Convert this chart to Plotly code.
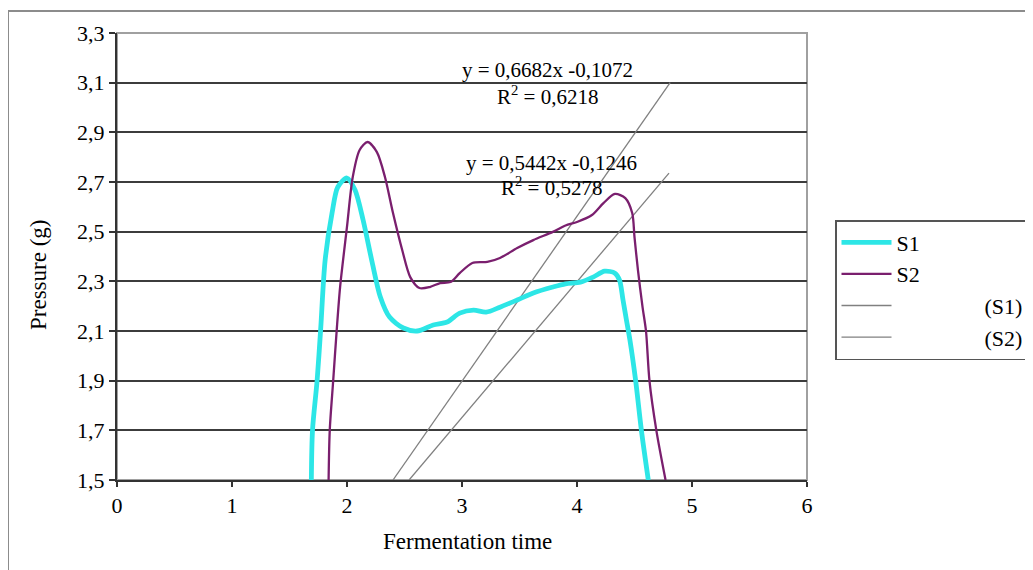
import plotly.graph_objects as go

# ---- data ----
s1_x = [1.69, 1.70, 1.74, 1.77, 1.81, 1.87, 1.92, 2.00, 2.07, 2.14, 2.22, 2.29, 2.37, 2.49, 2.61,
        2.75, 2.87, 2.98, 3.10, 3.21, 3.33, 3.48, 3.62, 3.79, 3.90, 4.03, 4.14, 4.24, 4.33, 4.37,
        4.40, 4.43, 4.46, 4.51, 4.56, 4.62]
s1_y = [1.50, 1.70, 1.90, 2.10, 2.386, 2.575, 2.68, 2.716, 2.668, 2.547, 2.374, 2.237, 2.156, 2.112, 2.10,
        2.124, 2.136, 2.172, 2.184, 2.176, 2.196, 2.225, 2.253, 2.277, 2.29, 2.297, 2.317, 2.341, 2.333, 2.305,
        2.225, 2.144, 2.064, 1.90, 1.70, 1.50]

s2_x = [1.84, 1.85, 1.88, 1.91, 1.94, 2.00, 2.05, 2.11, 2.18, 2.26, 2.33, 2.40, 2.48, 2.55, 2.63,
        2.72, 2.81, 2.90, 2.98, 3.09, 3.22, 3.33, 3.48, 3.62, 3.79, 3.90, 4.00, 4.13, 4.23, 4.33,
        4.42, 4.48, 4.50, 4.53, 4.57, 4.60, 4.63, 4.69, 4.77]
s2_y = [1.50, 1.70, 1.90, 2.10, 2.277, 2.52, 2.72, 2.829, 2.861, 2.82, 2.72, 2.575, 2.426, 2.317, 2.273,
        2.277, 2.293, 2.297, 2.333, 2.374, 2.378, 2.394, 2.434, 2.466, 2.499, 2.525, 2.539, 2.567, 2.615, 2.652,
        2.635, 2.575, 2.478, 2.345, 2.196, 2.10, 1.90, 1.70, 1.50]

trend1_x = [2.40, 4.81]
trend1_y = [1.50, 3.10]
trend2_x = [2.54, 4.80]
trend2_y = [1.50, 2.736]

eq1_text = "y = 0,6682x -0,1072"
r1_text = "R<sup>2</sup> = 0,6218"
eq2_text = "y = 0,5442x -0,1246"
r2_text = "R<sup>2</sup> = 0,5278"

x_ticks = [0, 1, 2, 3, 4, 5, 6]
y_ticks = [1.5, 1.7, 1.9, 2.1, 2.3, 2.5, 2.7, 2.9, 3.1, 3.3]

FONT = "Liberation Serif"
NB = "\u00a0"

fig = go.Figure()
fig.add_trace(go.Scatter(x=trend1_x, y=trend1_y, mode="lines", name=NB * 16 + "(S1)",
                         line=dict(color="#808080", width=1.3), legendgroup="c", legendrank=3))
fig.add_trace(go.Scatter(x=trend2_x, y=trend2_y, mode="lines", name=NB * 16 + "(S2)",
                         line=dict(color="#808080", width=1.3), legendgroup="d", legendrank=4))
fig.add_trace(go.Scatter(x=s1_x, y=s1_y, mode="lines", name="S1",
                         line=dict(color="#2de6e6", width=4.8, shape="spline", smoothing=0.8),
                         legendgroup="a", legendrank=1))
fig.add_trace(go.Scatter(x=s2_x, y=s2_y, mode="lines", name="S2",
                         line=dict(color="#7a1f6e", width=2.3, shape="spline", smoothing=0.8),
                         legendgroup="b", legendrank=2))

ann_font = dict(family=FONT, size=21, color="black")
annotations = [
    dict(x=3.74, y=3.151, text=eq1_text),
    dict(x=3.74, y=3.05, text=r1_text),
    dict(x=3.775, y=2.776, text=eq2_text),
    dict(x=3.775, y=2.683, text=r2_text),
]
for a in annotations:
    a.update(xref="x", yref="y", showarrow=False, font=ann_font, xanchor="center", yanchor="middle")

# plot area on screen: x 117..807, y 33..480 (page body adds an 8px offset)
annotations.append(dict(xref="paper", yref="paper", x=(468 - 117) / 690, y=(480 - 541) / 447,
                        text="Fermentation time", showarrow=False,
                        font=dict(family=FONT, size=23, color="black"),
                        xanchor="center", yanchor="middle"))
annotations.append(dict(xref="paper", yref="paper", x=(38 - 117) / 690, y=(480 - 275) / 447,
                        text="Pressure (g)", showarrow=False, textangle=-90,
                        font=dict(family=FONT, size=23, color="black"),
                        xanchor="center", yanchor="middle"))

shapes = [
    # outer chart frame
    dict(type="rect", xref="paper", yref="paper",
         x0=(8 - 117) / 690, x1=(1050 - 117) / 690, y0=(480 - 600) / 447, y1=(480 - 11) / 447,
         line=dict(color="#8c8c8c", width=2), fillcolor="rgba(0,0,0,0)", layer="below"),
    # plot area border
    dict(type="rect", xref="paper", yref="paper", x0=0, x1=1, y0=0, y1=1,
         line=dict(color="#a0a0a0", width=2), fillcolor="rgba(0,0,0,0)", layer="below"),
]

fig.update_layout(
    width=1033, height=570,
    margin=dict(l=109, r=234, t=25, b=98, autoexpand=False),
    paper_bgcolor="white", plot_bgcolor="white",
    separators=", ",
    font=dict(family=FONT, size=22, color="black"),
    showlegend=True,
    legend=dict(x=(835 - 117) / 690, y=(480 - 220) / 447, xanchor="left", yanchor="top",
                bgcolor="white", bordercolor="#555555", borderwidth=1.5,
                font=dict(family=FONT, size=22, color="black"),
                itemwidth=50, tracegroupgap=9, traceorder="normal"),
    annotations=annotations,
    shapes=shapes,
    xaxis=dict(range=[0, 6], tickvals=x_ticks, ticktext=[str(v) for v in x_ticks],
               showgrid=False, zeroline=False, showline=True, linecolor="#333333", linewidth=2,
               ticks="outside", ticklen=5, tickwidth=1.5, tickcolor="#333333",
               tickfont=dict(family=FONT, size=22, color="black")),
    yaxis=dict(range=[1.5, 3.3], tickvals=y_ticks, tickformat=".1f",
               showgrid=True, gridcolor="#3c3c3c", gridwidth=1.8,
               zeroline=False, showline=True, linecolor="#333333", linewidth=2,
               ticks="outside", ticklen=6, tickwidth=1.5, tickcolor="#333333",
               tickfont=dict(family=FONT, size=22, color="black")),
)

fig.write_html("out.html")
